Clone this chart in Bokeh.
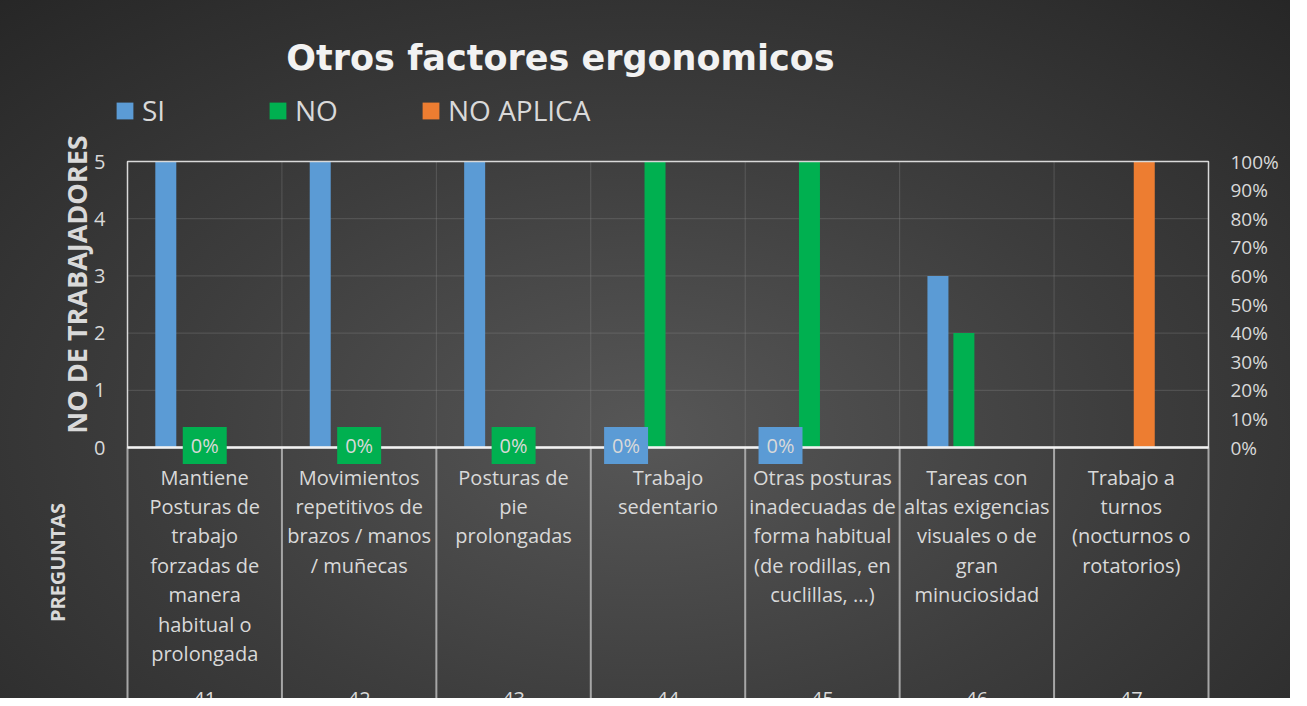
import math
from bokeh.plotting import figure
from bokeh.models import (Range1d, LinearAxis, FixedTicker, NumeralTickFormatter, Label)
from bokeh.embed import file_html
from bokeh.resources import INLINE

# ---------------- data ----------------
categories = [
    "Mantiene\nPosturas de\ntrabajo\nforzadas de\nmanera\nhabitual o\nprolongada",
    "Movimientos\nrepetitivos de\nbrazos / manos\n/ muñecas",
    "Posturas de\npie\nprolongadas",
    "Trabajo\nsedentario",
    "Otras posturas\ninadecuadas de\nforma habitual\n(de rodillas, en\ncuclillas, ...)",
    "Tareas con\naltas exigencias\nvisuales o de\ngran\nminuciosidad",
    "Trabajo a\nturnos\n(nocturnos o\nrotatorios)",
]
codes = ["41", "42", "43", "44", "45", "46", "47"]
series_names = ["SI", "NO", "NO APLICA"]
si = [5, 5, 5, 0, 0, 3, 0]
no = [0, 0, 0, 5, 5, 2, 0]
no_aplica = [0, 0, 0, 0, 0, 0, 5]
label_cats = [0, 1, 2, 3, 4]
label_series = ["NO", "NO", "NO", "SI", "SI"]
label_texts = ["0%", "0%", "0%", "0%", "0%"]
left_ticks = [0, 1, 2, 3, 4, 5]
right_ticks = [0.0, 0.1, 0.2, 0.3, 0.4, 0.5, 0.6, 0.7, 0.8, 0.9, 1.0]

# ---------------- layout / styles ----------------
W, H = 1290, 698
FL, FR, FT, FB = 127, 82, 161, 251          # plot-area margins inside the canvas
colors = {"SI": "#5b9bd5", "NO": "#00b050", "NO APLICA": "#ed7d31"}
FONT = "Open Sans"
TXT = "#d9d9d9"
n = len(categories)
ymax = 5
step = 0.168
bar_w = 0.136
offsets = {"SI": -1.5 * step, "NO": -0.5 * step, "NO APLICA": 0.5 * step}

pxx = (W - FL - FR) / n
pxy = (H - FT - FB) / ymax
x_range = Range1d(-FL / pxx, n + FR / pxx)
y_range = Range1d(-FB / pxy, ymax + FT / pxy)

p = figure(width=W, height=H, x_range=x_range, y_range=y_range,
           x_axis_type=None, y_axis_type=None,
           output_backend="svg", toolbar_location=None, min_border=0)
p.title.visible = False
p.outline_line_color = None
p.background_fill_alpha = 0
p.border_fill_alpha = 0
p.styles = {"background": "radial-gradient(ellipse 75% 85% at 50% 62%, #575757 0%, #3d3d3d 50%, #262626 100%)"}

# grid lines
p.segment(x0=[0] * 4, x1=[n] * 4, y0=left_ticks[1:-1], y1=left_ticks[1:-1],
          line_color="#8c8c8c", line_alpha=0.35, line_width=1)
p.segment(x0=list(range(1, n)), x1=list(range(1, n)), y0=[0] * (n - 1), y1=[ymax] * (n - 1),
          line_color="#8c8c8c", line_alpha=0.35, line_width=1)
# category separators below the axis
p.segment(x0=list(range(n + 1)), x1=list(range(n + 1)), y0=[0] * (n + 1), y1=[y_range.start] * (n + 1),
          line_color="#a6a6a6", line_width=2)

vals = {"SI": si, "NO": no, "NO APLICA": no_aplica}
for name in series_names:
    xs = [i + 0.5 + offsets[name] for i in range(n)]
    p.vbar(x=xs, top=vals[name], bottom=0, width=bar_w, color=colors[name],
           line_color=None, legend_label=name)

# plot-area border
p.quad(left=[0], right=[n], bottom=[0], top=[ymax], fill_alpha=0,
       line_color="#d9d9d9", line_width=1.5)

# bottom category axis
xa = LinearAxis(fixed_location=0, bounds=(0, n))
xa.ticker = FixedTicker(ticks=[i + 0.5 for i in range(n)])
xa.major_label_overrides = {i + 0.5: c for i, c in enumerate(categories)}
xa.major_label_text_font = FONT
xa.major_label_text_font_size = "20px"
xa.major_label_text_color = TXT
xa.major_label_text_line_height = 1.09
xa.major_label_standoff = 16
xa.major_tick_line_color = None
xa.major_tick_in = 0
xa.major_tick_out = 0
xa.minor_tick_line_color = None
xa.axis_line_color = "#f2f2f2"
xa.axis_line_width = 2.5
p.add_layout(xa, "below")

# left axis
ya = LinearAxis(fixed_location=0, bounds=(0, ymax), ticker=FixedTicker(ticks=left_ticks))
ya.major_tick_out = 0
ya.major_tick_in = 0
ya.minor_tick_line_color = None
ya.axis_line_color = None
ya.major_label_standoff = 22
ya.major_label_text_font = FONT
ya.major_label_text_font_size = "20px"
ya.major_label_text_color = TXT
p.add_layout(ya, "left")

# right percentage axis
p.extra_y_ranges = {"pct": Range1d(y_range.start / ymax, y_range.end / ymax)}
ra = LinearAxis(y_range_name="pct", fixed_location=n, bounds=(0, 1),
                ticker=FixedTicker(ticks=right_ticks), formatter=NumeralTickFormatter(format="0%"))
ra.major_tick_out = 0
ra.major_tick_in = 0
ra.minor_tick_line_color = None
ra.axis_line_color = None
ra.major_label_standoff = 22
ra.major_label_text_font = FONT
ra.major_label_text_font_size = "19px"
ra.major_label_text_color = TXT
p.add_layout(ra, "right")

# legend
lg = p.legend[0]
lg.orientation = "horizontal"
lg.location = (114, 569)
lg.background_fill_alpha = 0
lg.border_line_alpha = 0
lg.padding = 0
lg.margin = 0
lg.glyph_width = 21
lg.glyph_height = 21
lg.label_standoff = 7
lg.label_width = 115
lg.spacing = 10
lg.label_text_font = FONT
lg.label_text_font_size = "28px"
lg.label_text_color = TXT

# title
p.add_layout(Label(x=560, y=H - 57, x_units="screen", y_units="screen", text="Otros factores ergonomicos",
                   text_align="center", text_baseline="middle", text_font="DejaVu Sans",
                   text_font_style="bold", text_font_size="35px", text_color="#f2f2f2"))
# y axis title
p.add_layout(Label(x=76, y=H - 284, x_units="screen", y_units="screen", text="NO DE TRABAJADORES",
                   angle=math.pi / 2, text_align="center", text_baseline="middle", text_font=FONT,
                   text_font_style="bold", text_font_size="27px", text_color=TXT))
# x axis title
p.add_layout(Label(x=57, y=H - 562, x_units="screen", y_units="screen", text="PREGUNTAS",
                   angle=math.pi / 2, text_align="center", text_baseline="middle", text_font=FONT,
                   text_font_style="bold", text_font_size="20px", text_color=TXT))

# second-level category codes
for i, c in enumerate(codes):
    p.add_layout(Label(x=i + 0.5, y=7, y_units="screen", text=c, text_align="center",
                       text_baseline="top", text_font=FONT, text_font_size="20px", text_color=TXT))

# data labels
nudge = {"NO": 13, "SI": -3}
for ci, s, t in zip(label_cats, label_series, label_texts):
    p.add_layout(Label(x=ci + 0.5 + offsets[s], y=0, x_offset=nudge[s], y_offset=2, text=t,
                       text_align="center", text_baseline="middle", text_font=FONT,
                       text_font_size="20px", text_color=TXT,
                       background_fill_color=colors[s], background_fill_alpha=1,
                       padding=dict(left=8, right=8, top=5, bottom=5)))

open("out.html", "w").write(file_html(p, INLINE))
